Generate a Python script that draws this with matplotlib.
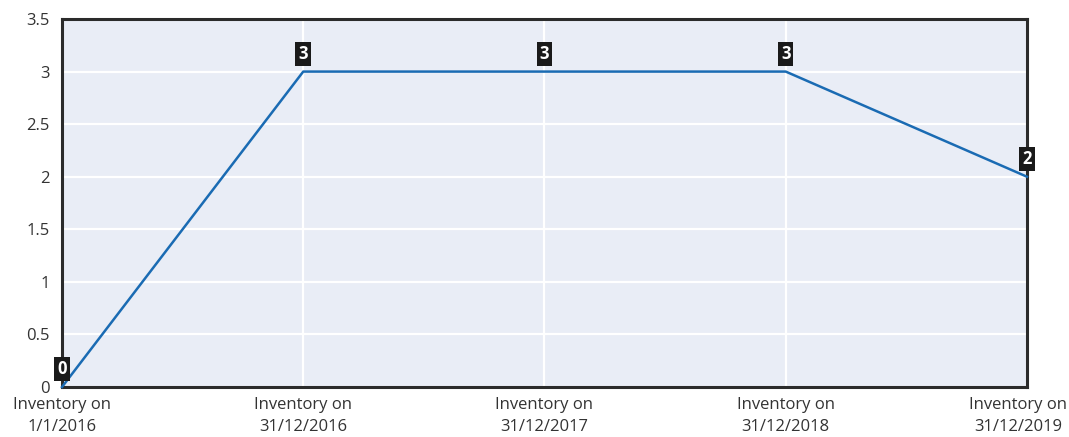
import matplotlib.pyplot as plt
import matplotlib.transforms as mtransforms

plt.rcParams["font.family"] = ["Open Sans", "DejaVu Sans"]

periods = [
    "Inventory on\n1/1/2016",
    "Inventory on\n31/12/2016",
    "Inventory on\n31/12/2017",
    "Inventory on\n31/12/2018",
    "Inventory on\n31/12/2019",
]
inventory = [0, 3, 3, 3, 2]
y_ticks = [0, 0.5, 1, 1.5, 2, 2.5, 3, 3.5]

fig = plt.figure(figsize=(10.69, 4.37), dpi=100)
ax = fig.add_axes([0.058, 0.1144, 0.9027, 0.8421])

x = list(range(len(periods)))
ax.set_facecolor("#e9edf6")
ax.plot(x, inventory, color="#1a6bb3", linewidth=1.8, zorder=3, clip_on=False)

for xi, yi in zip(x, inventory):
    ax.annotate(
        str(yi),
        (xi, yi),
        xytext=(0, 18),
        textcoords="offset pixels",
        ha="center",
        va="center",
        color="white",
        fontweight="bold",
        fontsize=12,
        bbox=dict(boxstyle="square,pad=0.18", fc="#1a1a1a", ec="none"),
        zorder=5,
        annotation_clip=False,
    )

ax.set_xlim(0, len(periods) - 1)
ax.set_ylim(0, 3.5)
ax.set_xticks(x)
ax.set_xticklabels(periods, fontsize=12, color="#333333", linespacing=1.55)
ax.set_yticks(y_ticks)
ax.set_yticklabels([f"{v:g}" for v in y_ticks], fontsize=12, color="#333333")
ax.tick_params(axis="y", length=0, pad=9)
ax.tick_params(axis="x", length=0, pad=7)

# keep the last category label inside the figure
last = ax.get_xticklabels()[-1]
last.set_transform(last.get_transform()
                   + mtransforms.ScaledTranslation(-0.09, 0, fig.dpi_scale_trans))

ax.grid(True, color="white", linewidth=1.6)
ax.set_axisbelow(True)
for spine in ax.spines.values():
    spine.set_color("#2b2b2b")
    spine.set_linewidth(2.2)

fig.savefig("out.png", dpi=100)
